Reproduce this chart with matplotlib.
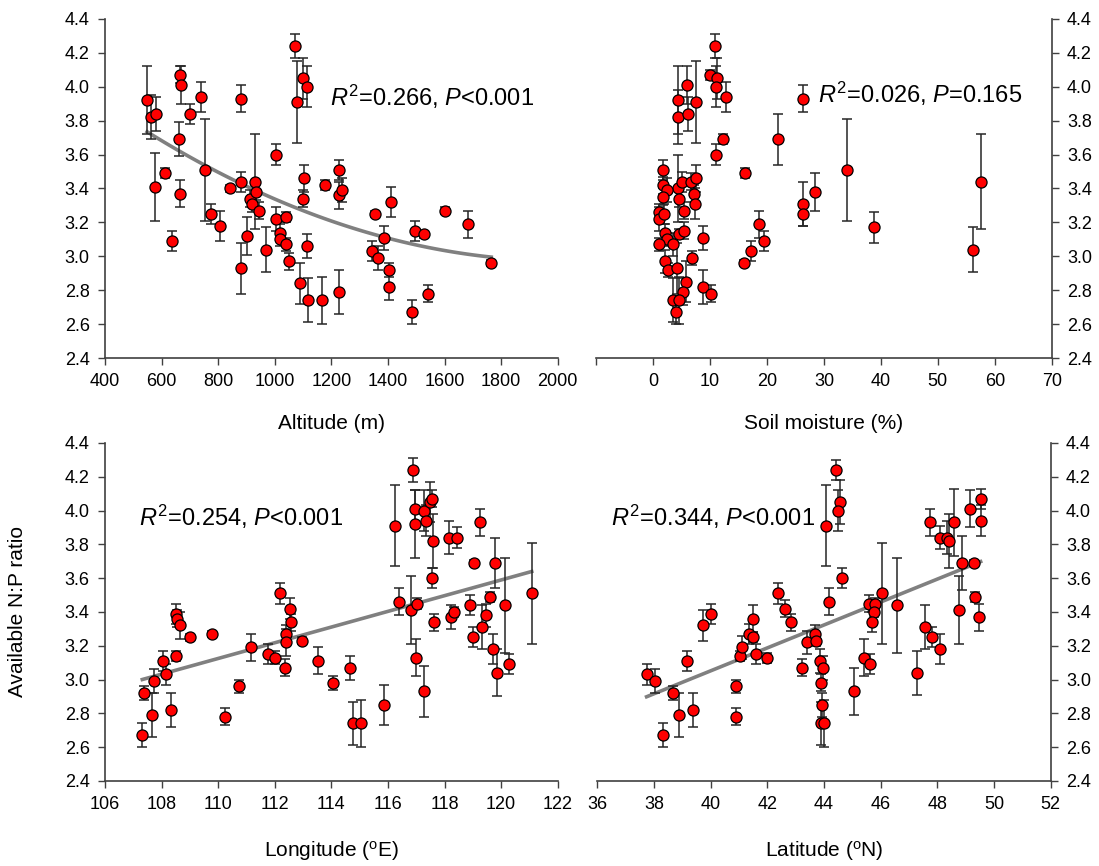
import numpy as np
import matplotlib
matplotlib.use('Agg')
import matplotlib.pyplot as plt

plt.rcParams['font.family'] = ['Liberation Sans', 'DejaVu Sans']
plt.rcParams['mathtext.fontset'] = 'custom'
plt.rcParams['mathtext.rm'] = 'Liberation Sans'
plt.rcParams['mathtext.it'] = 'Liberation Sans:italic'

# altitude panel
alt_x = [549, 561, 580, 576, 612, 638, 665, 667, 660, 665, 701, 738, 753, 774, 808, 841,
         880, 882, 882, 903, 914, 918, 930, 935, 946, 968, 1006, 1004, 1020, 1018, 1039,
         1039, 1049, 1073, 1079, 1099, 1113, 1104, 1099, 1089, 1118, 1114, 1168, 1227,
         1176, 1227, 1227, 1239, 1356, 1412, 1386, 1345, 1366, 1404, 1404, 1486, 1541,
         1494, 1527, 1602, 1682, 1765]
alt_y = [3.92, 3.82, 3.84, 3.41, 3.49, 3.09, 4.07, 4.01, 3.69, 3.37, 3.84, 3.94, 3.51, 3.25,
         3.18, 3.40, 3.93, 3.44, 2.93, 3.12, 3.34, 3.31, 3.44, 3.38, 3.27, 3.04, 3.60, 3.22,
         3.14, 3.10, 3.23, 3.07, 2.97, 4.24, 3.91, 4.05, 4.00, 3.46, 3.34, 2.84, 2.74, 3.06,
         2.74, 2.79, 3.42, 3.51, 3.36, 3.39, 3.25, 3.32, 3.11, 3.03, 2.99, 2.92, 2.82, 2.67,
         2.78, 3.15, 3.13, 3.27, 3.19, 2.96]
alt_err = [0.20, 0.13, 0.10, 0.20, 0.03, 0.06, 0.05, 0.11, 0.10, 0.08, 0.06, 0.09, 0.30, 0.06,
           0.09, 0.02, 0.08, 0.06, 0.15, 0.11, 0.05, 0.05, 0.28, 0.05, 0.05, 0.13, 0.06, 0.07,
           0.05, 0.04, 0.03, 0.04, 0.05, 0.07, 0.24, 0.12, 0.12, 0.08, 0.05, 0.12, 0.13, 0.07,
           0.14, 0.13, 0.03, 0.06, 0.08, 0.07, 0.02, 0.09, 0.07, 0.06, 0.07, 0.04, 0.08, 0.07,
           0.05, 0.06, 0.02, 0.02, 0.08, 0.02]

# soil moisture panel
moist_x = [10.9, 10.0, 11.2, 11.1, 12.8, 5.9, 4.4, 4.4, 6.1, 7.5, 12.2, 11.1, 16.1, 1.8, 4.4,
           5.0, 6.6, 7.5, 1.8, 2.4, 1.8, 4.6, 7.1, 7.4, 5.5, 1.0, 1.0, 1.9, 2.0, 2.4, 1.0, 4.6,
           5.5, 3.4, 8.7, 2.1, 6.8, 2.6, 4.2, 5.8, 5.2, 3.4, 4.6, 4.1, 8.7, 10.2, 16.0, 17.2,
           18.6, 19.5, 21.9, 26.4, 26.4, 26.4, 28.5, 34.1, 38.7, 56.2, 57.5]
moist_y = [4.24, 4.07, 4.05, 4.00, 3.94, 4.01, 3.92, 3.82, 3.84, 3.91, 3.69, 3.60, 3.49, 3.51,
           3.40, 3.44, 3.44, 3.46, 3.42, 3.39, 3.35, 3.34, 3.37, 3.31, 3.27, 3.26, 3.22, 3.25,
           3.14, 3.10, 3.07, 3.13, 3.15, 3.07, 3.11, 2.97, 2.99, 2.92, 2.93, 2.85, 2.79, 2.74,
           2.74, 2.67, 2.82, 2.78, 2.96, 3.03, 3.19, 3.09, 3.69, 3.93, 3.31, 3.25, 3.38, 3.51,
           3.17, 3.04, 3.44]
moist_err = [0.07, 0.03, 0.12, 0.12, 0.09, 0.11, 0.20, 0.16, 0.10, 0.24, 0.03, 0.06, 0.03, 0.06,
             0.20, 0.06, 0.05, 0.08, 0.05, 0.07, 0.05, 0.05, 0.05, 0.09, 0.05, 0.05, 0.07, 0.06,
             0.05, 0.04, 0.04, 0.03, 0.05, 0.07, 0.07, 0.07, 0.04, 0.04, 0.15, 0.12, 0.08, 0.13,
             0.14, 0.07, 0.10, 0.05, 0.02, 0.06, 0.08, 0.06, 0.15, 0.08, 0.13, 0.07, 0.11, 0.30,
             0.09, 0.13, 0.28]

# longitude panel
lon_x = [107.32, 107.39, 107.68, 107.73, 108.04, 108.15, 108.34, 108.51, 108.53, 108.65,
         108.51, 109.0, 109.78, 110.24, 110.73, 111.16, 111.76, 112.0, 112.19, 112.35,
         112.41, 112.39, 112.55, 112.58, 112.98, 113.53, 114.06, 114.65, 114.76, 115.06,
         115.86, 116.24, 116.38, 116.80, 117.02, 116.89, 116.94, 116.94, 117.26, 117.35,
         117.49, 117.56, 117.60, 117.56, 116.98, 117.29, 117.64, 118.14, 118.44, 118.24,
         118.33, 119.24, 119.05, 119.80, 118.91, 119.02, 119.33, 119.48, 119.61, 119.71,
         119.84, 120.15, 120.29, 121.08]
lon_y = [2.67, 2.92, 2.79, 2.99, 3.11, 3.03, 2.82, 3.39, 3.36, 3.32, 3.14, 3.25, 3.27, 2.78,
         2.96, 3.19, 3.15, 3.13, 3.51, 3.07, 3.27, 3.22, 3.42, 3.34, 3.23, 3.11, 2.98, 3.07,
         2.74, 2.74, 2.85, 3.91, 3.46, 3.41, 3.45, 4.24, 4.01, 3.92, 4.00, 3.94, 4.05, 4.07,
         3.82, 3.60, 3.13, 2.93, 3.34, 3.84, 3.84, 3.37, 3.40, 3.93, 3.69, 3.69, 3.44, 3.25,
         3.31, 3.38, 3.49, 3.18, 3.04, 3.44, 3.09, 3.51]
lon_err = [0.07, 0.04, 0.13, 0.07, 0.06, 0.06, 0.10, 0.06, 0.05, 0.08, 0.03, 0.02, 0.02, 0.05,
           0.04, 0.08, 0.06, 0.04, 0.06, 0.05, 0.05, 0.08, 0.06, 0.05, 0.02, 0.08, 0.04, 0.07,
           0.13, 0.14, 0.12, 0.24, 0.08, 0.20, 0.03, 0.07, 0.11, 0.20, 0.12, 0.09, 0.12, 0.05,
           0.16, 0.06, 0.11, 0.15, 0.05, 0.10, 0.06, 0.07, 0.03, 0.08, 0.02, 0.15, 0.06, 0.06,
           0.13, 0.07, 0.03, 0.09, 0.14, 0.28, 0.06, 0.30]

# latitude panel
lat_x = [37.74, 38.02, 38.31, 38.67, 38.89, 39.16, 39.38, 39.74, 40.02, 40.91, 40.91, 41.05,
         41.11, 41.36, 41.48, 41.48, 41.60, 41.99, 42.36, 42.62, 42.84, 43.21, 43.41, 43.67,
         43.73, 43.85, 43.96, 43.88, 43.94, 43.91, 44.00, 44.07, 44.18, 44.42, 44.56, 44.51,
         44.64, 45.06, 45.41, 45.62, 45.60, 45.79, 45.76, 45.68, 46.06, 46.56, 47.27, 47.56,
         47.81, 48.09, 47.74, 48.09, 48.33, 48.42, 48.59, 48.75, 48.87, 49.15, 49.29, 49.32,
         49.47, 49.53, 49.53]
lat_y = [3.03, 2.99, 2.67, 2.92, 2.79, 3.11, 2.82, 3.32, 3.39, 2.96, 2.78, 3.14, 3.19, 3.27,
         3.36, 3.25, 3.15, 3.13, 3.51, 3.42, 3.34, 3.07, 3.22, 3.27, 3.23, 3.11, 3.07, 2.98,
         2.85, 2.74, 2.74, 3.91, 3.46, 4.24, 4.05, 4.00, 3.60, 2.93, 3.13, 3.09, 3.45, 3.45,
         3.40, 3.34, 3.51, 3.44, 3.04, 3.31, 3.25, 3.18, 3.93, 3.84, 3.84, 3.82, 3.93, 3.41,
         3.69, 4.01, 3.69, 3.49, 3.37, 4.07, 3.94]
lat_err = [0.06, 0.07, 0.07, 0.04, 0.13, 0.06, 0.10, 0.09, 0.06, 0.04, 0.05, 0.03, 0.07, 0.06,
           0.08, 0.03, 0.06, 0.03, 0.06, 0.05, 0.05, 0.05, 0.07, 0.05, 0.03, 0.07, 0.07, 0.05,
           0.07, 0.13, 0.14, 0.24, 0.08, 0.06, 0.13, 0.12, 0.06, 0.14, 0.11, 0.06, 0.05, 0.03,
           0.03, 0.06, 0.30, 0.28, 0.13, 0.13, 0.06, 0.09, 0.08, 0.07, 0.10, 0.16, 0.20, 0.20,
           0.16, 0.11, 0.02, 0.03, 0.08, 0.06, 0.09]

stats = ['$R^2$=0.266, $P$<0.001', '$R^2$=0.026, $P$=0.165',
         '$R^2$=0.254, $P$<0.001', '$R^2$=0.344, $P$<0.001']
xlabels = ['Altitude (m)', 'Soil moisture (%)', 'Longitude ($\\mathregular{^o}$E)',
           'Latitude ($\\mathregular{^o}$N)']

fig = plt.figure(figsize=(10.99, 8.66), dpi=100)
axes = [fig.add_axes([0.0955, 0.5866, 0.412, 0.3915]),
        fig.add_axes([0.5425, 0.5866, 0.4145, 0.3915]),
        fig.add_axes([0.0955, 0.0982, 0.412, 0.3903]),
        fig.add_axes([0.5435, 0.0982, 0.4125, 0.3903])]

panels = [(alt_x, alt_y, alt_err), (moist_x, moist_y, moist_err),
          (lon_x, lon_y, lon_err), (lat_x, lat_y, lat_err)]
fit_deg = [2, None, 1, 1]
xlims = [(400, 2000), (-10, 70), (106, 122), (36, 52)]
xticks = [np.arange(400, 2001, 200), np.arange(-10, 71, 10),
          np.arange(106, 123, 2), np.arange(36, 53, 2)]
text_pos = [(1195, 3.94), (28.9, 3.96), (107.2, 3.96), (36.5, 3.96)]
ecol = '#262626'

for i, ax in enumerate(axes):
    x, y, e = panels[i]
    x = np.array(x, float)
    y = np.array(y, float)
    if fit_deg[i]:
        # regression line through the panel's points
        c = np.polyfit(x, y, fit_deg[i])
        xs = np.linspace(x.min(), x.max(), 100)
        ax.plot(xs, np.polyval(c, xs), color='#808080', lw=2.6, zorder=2)
    ax.errorbar(x, y, yerr=e, fmt='none', ecolor=ecol, elinewidth=1.1,
                capsize=3.3, capthick=1.1, zorder=3)
    ax.plot(x, y, 'o', ms=8, mfc='#ff0000', mec='black', mew=0.9, zorder=4)

    ax.set_xlim(*xlims[i])
    ax.set_ylim(2.4, 4.4)
    ax.set_xticks(xticks[i])
    if i == 1:
        ax.set_xticklabels([''] + [str(v) for v in xticks[i][1:]])
    ax.set_yticks(np.arange(2.4, 4.41, 0.2))
    ax.set_yticklabels(['%.1f' % v for v in np.arange(2.4, 4.41, 0.2)])
    ax.tick_params(direction='out', length=5, width=1, color='#404040',
                   labelsize=13, pad=6)
    ax.spines['top'].set_visible(False)
    if i in (1, 3):
        ax.spines['left'].set_visible(False)
        ax.yaxis.tick_right()
    else:
        ax.spines['right'].set_visible(False)
    for s in ax.spines.values():
        s.set_color('#404040')
        s.set_linewidth(1.2)
    ax.set_xlabel(xlabels[i], fontsize=15)
    ax.xaxis.set_label_coords(0.5, -0.165 if i < 2 else -0.172)
    ax.text(text_pos[i][0], text_pos[i][1], stats[i], fontsize=17,
            ha='left', va='center')

axes[2].set_ylabel('Available N:P ratio', fontsize=15)
axes[2].yaxis.set_label_coords(-0.172, 0.5)

fig.savefig('out.png', dpi=100)
